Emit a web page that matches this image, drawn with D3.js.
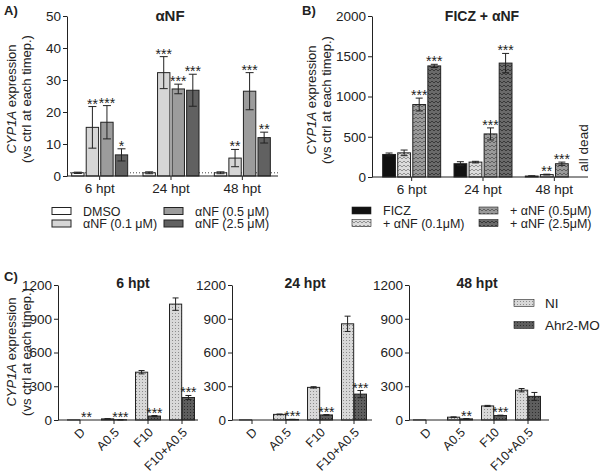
<!DOCTYPE html>
<html><head><meta charset="utf-8">
<script src="https://cdn.jsdelivr.net/npm/d3@7"></script>
<style>body{margin:0;background:#fff} svg{font-family:"Liberation Sans",Arial,sans-serif}</style>
</head><body><svg id="c" width="600" height="476"></svg>
<script>
// ---------- DATA ----------
const timepoints = ["6 hpt", "24 hpt", "48 hpt"];
// Panel A
const seriesA = ["DMSO", "αNF (0.1 μM)", "αNF (0.5 μM)", "αNF (2.5 μM)"];
const valuesA = [[1.0, 15.2, 16.8, 6.6], [1.0, 32.3, 27.2, 26.8], [1.0, 5.6, 26.5, 12.0]];
const errA = [[0.2, 6.5, 5.2, 1.9], [0.3, 5.0, 1.5, 5.0], [0.3, 2.7, 5.8, 1.7]];
const starsA = [["", "**", "***", "*"], ["", "***", "***", "***"], ["", "**", "***", "**"]];
const ticksA = [0, 10, 20, 30, 40, 50];
// Panel B
const seriesB = ["FICZ", "+ αNF (0.1μM)", "+ αNF (0.5μM)", "+ αNF (2.5μM)"];
const valuesB = [[280, 300, 900, 1380], [165, 185, 535, 1415], [12, 30, 165, null]];
const errB = [[18, 35, 80, 20], [25, 10, 75, 120], [3, 5, 20, 0]];
const starsB = [["", "", "***", "***"], ["", "", "***", "***"], ["", "**", "***", ""]];
const ticksB = [0, 500, 1000, 1500, 2000];
// Panel C
const categoriesC = ["D", "A0.5", "F10", "F10+A0.5"];
const seriesC = ["NI", "Ahr2-MO"];
const valuesC = [
  [[1, 0], [10, 2], [425, 35], [1030, 200]],
  [[1, 0], [50, 5], [290, 45], [855, 230]],
  [[1, 0], [25, 10], [125, 40], [265, 210]]
];
const errC = [
  [[0, 0], [2, 1], [15, 5], [55, 18]],
  [[0, 0], [3, 1], [6, 3], [68, 32]],
  [[0, 0], [3, 2], [5, 3], [15, 35]]
];
const starsC = [
  [["", "**"], ["", "***"], ["", "***"], ["", "***"]],
  [["", ""], ["", "***"], ["", "***"], ["", "***"]],
  [["", ""], ["", "**"], ["", "***"], ["", ""]]
];
const ticksC = [0, 300, 600, 900, 1200];

// ---------- SETUP ----------
const svg = d3.select("#c");
const defs = svg.append("defs");
const INK = "#222";
const FF = '"Liberation Sans",Arial,sans-serif';

function zigzag(id, bg, fg) {
  const p = defs.append("pattern").attr("id", id).attr("patternUnits", "userSpaceOnUse")
    .attr("width", 4).attr("height", 4);
  p.append("rect").attr("width", 4).attr("height", 4).attr("fill", bg);
  p.append("path").attr("d", "M0,1 L2,3 L4,1").attr("stroke", fg).attr("fill", "none").attr("stroke-width", 0.9);
}
function dots(id, bg, fg) {
  const p = defs.append("pattern").attr("id", id).attr("patternUnits", "userSpaceOnUse")
    .attr("width", 3).attr("height", 3);
  p.append("rect").attr("width", 3).attr("height", 3).attr("fill", bg);
  p.append("rect").attr("x", 1).attr("y", 1).attr("width", 1).attr("height", 1).attr("fill", fg);
}
zigzag("zzL", "#dcdcdc", "#8a8a8a");
zigzag("zzM", "#9a9a9a", "#5a5a5a");
zigzag("zzD", "#6a6a6a", "#333");
dots("dtL", "#d8d8d8", "#8c8c8c");
dots("dtD", "#5e5e5e", "#2e2e2e");

const fillA = ["#ffffff", "#d6d6d6", "#9c9c9c", "#616161"];
const fillB = ["#111", "url(#zzL)", "url(#zzM)", "url(#zzD)"];
const fillC = ["url(#dtL)", "url(#dtD)"];

function text(g, x, y, s, opts = {}) {
  const t = g.append("text").attr("x", x).attr("y", y).text(s)
    .attr("font-size", opts.size || 13).attr("fill", INK);
  if (opts.bold) t.attr("font-weight", "bold");
  if (opts.anchor) t.attr("text-anchor", opts.anchor);
  return t;
}

function yLabel(cx1, cx2, cy) {
  const t1 = svg.append("text").attr("transform", `translate(${cx1},${cy}) rotate(-90)`)
    .attr("text-anchor", "middle").attr("font-size", 13).attr("fill", INK);
  t1.append("tspan").attr("font-style", "italic").text("CYP1A");
  t1.append("tspan").text(" expression");
  svg.append("text").attr("transform", `translate(${cx2},${cy}) rotate(-90)`)
    .attr("text-anchor", "middle").attr("font-size", 13).attr("fill", INK)
    .text("(vs ctrl at each timep.)");
}

function yAxis(x, y, ticks) {
  const g = svg.append("g").attr("transform", `translate(${x},0)`)
    .call(d3.axisLeft(y).tickValues(ticks).tickFormat(d3.format("d")).tickSize(4).tickSizeOuter(0).tickPadding(2));
  g.select(".domain").attr("stroke", INK);
  g.selectAll(".tick line").attr("stroke", INK);
  g.selectAll(".tick text").attr("font-size", 13.5).attr("fill", INK).attr("font-family", FF);
  return g;
}

function errBar(g, cx, yTop, yBot, cap) {
  g.append("line").attr("x1", cx).attr("x2", cx).attr("y1", yTop).attr("y2", yBot).attr("stroke", INK);
  g.append("line").attr("x1", cx - cap / 2).attr("x2", cx + cap / 2).attr("y1", yTop).attr("y2", yTop).attr("stroke", INK);
  g.append("line").attr("x1", cx - cap / 2).attr("x2", cx + cap / 2).attr("y1", yBot).attr("y2", yBot).attr("stroke", INK);
}

function groupedBars(opt) {
  const { xG, xS, y, values, errs, stars, fills, cap, series, groups } = opt;
  const g = svg.append("g");
  values.forEach((row, gi) => {
    row.forEach((v, si) => {
      if (v === null) return;
      const x0 = xG(groups[gi]) + xS(series[si]);
      const w = xS.bandwidth();
      const cx = x0 + w / 2;
      g.append("rect").attr("x", x0).attr("y", y(v)).attr("width", w)
        .attr("height", Math.max(0, y(0) - y(v))).attr("fill", fills[si])
        .attr("stroke", INK).attr("stroke-width", 1);
      const e = errs[gi][si];
      let top = y(v);
      if (e > 0) {
        top = y(v + e);
        errBar(g, cx, top, y(Math.max(0, v - e)), cap);
      }
      if (stars[gi][si]) {
        g.append("text").attr("x", cx).attr("y", top + 2).attr("text-anchor", "middle")
          .attr("font-size", 14).attr("fill", INK).text(stars[gi][si]);
      }
    });
  });
}

function xAxisStyle(gx) {
  gx.select(".domain").remove();
  gx.selectAll(".tick line").attr("stroke", INK);
  gx.selectAll(".tick text").attr("font-size", 13.5).attr("fill", INK).attr("font-family", FF);
}

// ---------- PANEL A ----------
{
  const y = d3.scaleLinear().domain([0, 50]).range([176, 16]);
  const xG = d3.scaleBand().domain(timepoints).range([64, 278]);
  const xS = d3.scaleBand().domain(seriesA).range([0, 56]).paddingInner(0.15);
  const off = (xG.bandwidth() - 56) / 2;
  const xGo = d => xG(d) + off;
  yAxis(67, y, ticksA);
  svg.append("line").attr("x1", 67).attr("x2", 278).attr("y1", y(1)).attr("y2", y(1))
    .attr("stroke", "#444").attr("stroke-dasharray", "1,2");
  groupedBars({ xG: xGo, xS, y, values: valuesA, errs: errA, stars: starsA, fills: fillA, cap: 8, series: seriesA, groups: timepoints });
  const gx = svg.append("g").attr("transform", `translate(0,${y(0)})`)
    .call(d3.axisBottom(xG).tickSize(4).tickSizeOuter(0).tickPadding(3));
  xAxisStyle(gx);
  svg.append("line").attr("x1", 67).attr("x2", 278).attr("y1", y(0)).attr("y2", y(0)).attr("stroke", INK);
  yLabel(16, 31, 99);
  text(svg, 4, 15, "A)", { bold: true, size: 13 });
  text(svg, 170, 21, "αNF", { bold: true, size: 15, anchor: "middle" });
  const lx = [52, 164], tx = [83, 195], ly = [211, 223.5];
  seriesA.forEach((s, i) => {
    const col = i === 0 || i === 1 ? 0 : 1;
    const row = i === 0 || i === 2 ? 0 : 1;
    svg.append("rect").attr("x", lx[col]).attr("y", ly[row] - 3.5).attr("width", 19).attr("height", 7)
      .attr("fill", fillA[i]).attr("stroke", INK);
    text(svg, tx[col], ly[row] + 4.5, s, { size: 12.5 });
  });
}

// ---------- PANEL B ----------
{
  const y = d3.scaleLinear().domain([0, 2000]).range([177, 16]);
  const xG = d3.scaleBand().domain(timepoints).range([376, 590]);
  const xS = d3.scaleBand().domain(seriesB).range([0, 58]).paddingInner(0.15);
  const off = (xG.bandwidth() - 58) / 2;
  const xGo = d => xG(d) + off;
  yAxis(372, y, ticksB);
  groupedBars({ xG: xGo, xS, y, values: valuesB, errs: errB, stars: starsB, fills: fillB, cap: 7, series: seriesB, groups: timepoints });
  const gx = svg.append("g").attr("transform", `translate(0,${y(0)})`)
    .call(d3.axisBottom(xG).tickSize(4).tickSizeOuter(0).tickPadding(3));
  xAxisStyle(gx);
  svg.append("line").attr("x1", 372).attr("x2", 588).attr("y1", y(0)).attr("y2", y(0)).attr("stroke", INK);
  svg.append("text").attr("transform", `translate(588,148) rotate(-90)`).attr("text-anchor", "middle")
    .attr("font-size", 13.5).attr("fill", INK).text("all dead");
  yLabel(316, 331, 100);
  text(svg, 302, 15, "B)", { bold: true, size: 13 });
  text(svg, 482, 21, "FICZ + αNF", { bold: true, size: 14, anchor: "middle" });
  const lx = [352, 479], tx = [383, 510], ly = [210.5, 223];
  seriesB.forEach((s, i) => {
    const col = i === 0 || i === 1 ? 0 : 1;
    const row = i === 0 || i === 2 ? 0 : 1;
    svg.append("rect").attr("x", lx[col]).attr("y", ly[row] - 3.5).attr("width", 19).attr("height", 7)
      .attr("fill", fillB[i]).attr("stroke", INK).attr("stroke-width", 0.6);
    text(svg, tx[col], ly[row] + 4.5, s, { size: 12.5 });
  });
}

// ---------- PANEL C ----------
{
  const y = d3.scaleLinear().domain([0, 1200]).range([420, 285]);
  const axisX = [58, 232, 409];
  const bandStart = [63, 235, 409];
  const titleX = [133, 305, 477];
  timepoints.forEach((tp, k) => {
    const xG = d3.scaleBand().domain(categoriesC).range([bandStart[k], bandStart[k] + 136]);
    const xS = d3.scaleBand().domain(seriesC).range([0, 25]).paddingInner(0.05);
    const off = (xG.bandwidth() - 25) / 2;
    const xGo = d => xG(d) + off;
    yAxis(axisX[k], y, ticksC);
    groupedBars({ xG: xGo, xS, y, values: valuesC[k], errs: errC[k], stars: starsC[k], fills: fillC, cap: 6, series: seriesC, groups: categoriesC });
    const gx = svg.append("g").attr("transform", `translate(0,${y(0)})`)
      .call(d3.axisBottom(xG).tickSize(4).tickSizeOuter(0).tickPadding(3));
    xAxisStyle(gx);
    gx.selectAll(".tick text").attr("font-size", 12.5)
      .attr("text-anchor", "end").attr("x", 0).attr("y", 0).attr("dy", 0)
      .attr("transform", "translate(6,13) rotate(-45)");
    svg.append("line").attr("x1", axisX[k]).attr("x2", axisX[k] + 140).attr("y1", y(0)).attr("y2", y(0)).attr("stroke", INK);
    text(svg, titleX[k], 288, tp, { bold: true, size: 14, anchor: "middle" });
  });
  yLabel(16, 31, 352);
  text(svg, 4, 281, "C)", { bold: true, size: 13 });
  const ly = [303, 325];
  seriesC.forEach((s, i) => {
    svg.append("rect").attr("x", 514).attr("y", ly[i] - 3.5).attr("width", 20).attr("height", 7)
      .attr("fill", fillC[i]).attr("stroke", INK).attr("stroke-width", 0.6);
    text(svg, 545, ly[i] + 5, s, { size: 13.5 });
  });
}
</script></body></html>
